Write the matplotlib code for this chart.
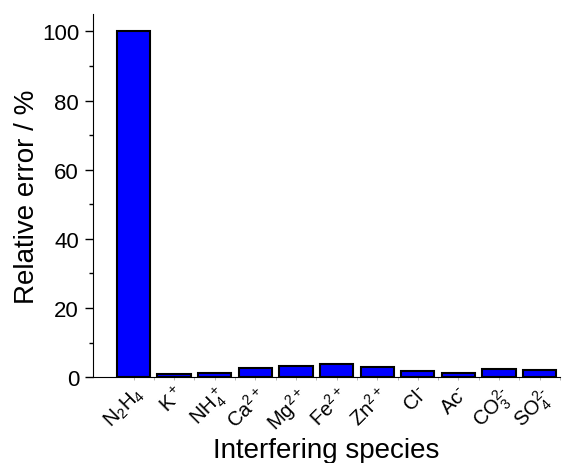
import numpy as np
import matplotlib
matplotlib.use('Agg')
import matplotlib.pyplot as plt

plt.rcParams['font.family'] = ['Liberation Sans', 'DejaVu Sans']
plt.rcParams['mathtext.default'] = 'regular'

# data
species = [r'$N_2H_4$', r'$K^+$', r'$NH_4^+$', r'$Ca^{2+}$', r'$Mg^{2+}$', r'$Fe^{2+}$',
           r'$Zn^{2+}$', r'$Cl^{‐}$', r'$Ac^{‐}$', r'$CO_3^{2‐}$', r'$SO_4^{2‐}$']
rel_error = [100, 0.9, 1.2, 2.6, 3.1, 3.7, 2.8, 1.9, 1.3, 2.3, 2.0]

x = np.arange(1, len(species) + 1)

fig = plt.figure(figsize=(5.77, 4.64), dpi=100)
ax = fig.add_axes([0.161, 0.185, 0.8095, 0.7825])
ax.bar(x, rel_error, width=0.82, color='#0000FF', edgecolor='black', linewidth=1.5)

ax.set_xlim(0, 11.5)
ax.set_ylim(0, 105)
ax.set_yticks(np.arange(0, 101, 20))
ax.set_yticks(np.arange(10, 101, 20), minor=True)
ax.set_xticks(x)
ax.set_xticklabels(species, rotation=45, ha='right', va='top', rotation_mode='anchor', fontsize=14.5)
ax.set_xticks(x + 0.5, minor=True)

ax.spines['top'].set_visible(False)
ax.spines['right'].set_visible(False)
ax.tick_params(axis='y', direction='out', length=6, width=1, labelsize=16, pad=4)
ax.tick_params(axis='y', which='minor', direction='out', length=3, width=1)
ax.tick_params(axis='x', which='both', direction='out', length=2, width=0.5, color='#999999', pad=2)

ax.set_xlabel('Interfering species', fontsize=20, va='center')
ax.xaxis.set_label_coords(0.5, -0.2)
ax.set_ylabel('Relative error / %', fontsize=20, labelpad=1.5)

plt.savefig('out.png', dpi=100)
